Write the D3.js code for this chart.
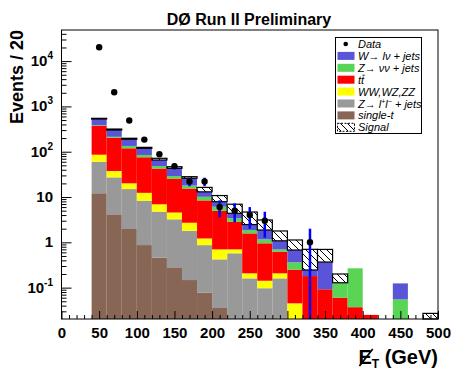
<!DOCTYPE html>
<html>
<head>
<meta charset="utf-8">
<script src="https://cdn.jsdelivr.net/npm/d3@7"></script>
<style>
  body { margin: 0; background: #fff; }
  text { font-family: Arial, 'Liberation Sans', sans-serif; }
</style>
</head>
<body>
<div id="chart"></div>
<script>
// bin lower edges, 20 GeV wide
const binLow = [40, 60, 80, 100, 120, 140, 160, 180, 200, 220, 240, 260, 280, 300, 320, 340, 360, 380, 400, 420, 440, 460, 480]

// per-process contributions (not cumulative), stacked bottom -> top
const singleTop = [12.1, 4.15, 1.97, 0.87, 0.457, 0.281, 0.147, 0.077, 0.0355, 0, 0, 0, 0, 0, 0, 0, 0, 0, 0, 0, 0, 0, 0]
const zll = [48, 23, 13, 7.4, 4.3, 2.94, 1.65, 0.79, 0.385, 0.572, 0.16, 0.097, 0.16, 0, 0, 0, 0, 0, 0, 0, 0, 0, 0]
const diboson = [25.8, 10.3, 5.1, 4.1, 2.16, 1.33, 0.91, 0.35, 0.279, 0.128, 0.047, 0.045, 0.047, 0.045, 0, 0, 0, 0, 0, 0, 0, 0, 0]
const ttbar = [289, 166, 99, 63, 35.7, 21, 12.7, 7.2, 4.28, 2.15, 1.37, 0.81, 0.413, 0.203, 0.18, 0.092, 0.06, 0.037, 0.025, 0, 0, 0, 0]
const znunu = [10, 10, 15, 9.4, 5.7, 3.5, 2.5, 1.7, 1.13, 0.54, 0.29, 0.21, 0.08, 0.114, 0, 0, 0.068, 0.23, 0, 0, 0.055, 0, 0]
const wjets = [142, 87, 54, 34, 17.3, 13.9, 8, 2.9, 1.77, 0.98, 0.6, 0.71, 0.38, 0.314, 0.065, 0.275, 0, 0, 0, 0, 0.069, 0, 0]
const signal = [19, 16, 10, 6, 6, 3.7, 2.2, 3.3, 2.9, 2.57, 2.2, 1.24, 0.7, 0.45, 0.455, 0.33, 0.072, 0, 0, 0, 0, 0, 0.027]

// data: bin centres and counts
const dataX = [50, 70, 90, 110, 130, 150, 170, 190, 210, 230, 250, 270, 330]
const dataN = [20200, 2050, 490, 185, 88, 48, 22, 22, 6, 5, 4, 3, 1]

const xTicks = [0, 50, 100, 150, 200, 250, 300, 350, 400, 450, 500]
const yTicks = [0.1, 1, 10, 100, 1000, 10000]

const keys = ['singleTop', 'zll', 'diboson', 'ttbar', 'znunu', 'wjets', 'signal']
const colors = {
  singleTop: '#876656',
  zll: '#999999',
  diboson: '#ffff00',
  ttbar: '#ff0000',
  znunu: '#59d454',
  wjets: '#5954d8'
}

const W = 454, H = 373
const plot = { left: 61.5, right: 438, top: 30, bottom: 319 }
const yMin = 0.0203, yMax = 48600

const svg = d3.select('#chart').append('svg').attr('width', W).attr('height', H)

const defs = svg.append('defs')
const pat = defs.append('pattern')
  .attr('id', 'hatch')
  .attr('patternUnits', 'userSpaceOnUse')
  .attr('width', 7)
  .attr('height', 7)
pat.append('rect').attr('width', 7).attr('height', 7).attr('fill', '#fff')
pat.append('path')
  .attr('d', 'M-1,-1 L8,8 M-1,6 L1,8 M6,-1 L8,1')
  .attr('stroke', '#000')
  .attr('stroke-width', 1)

const x = d3.scaleLinear().domain([0, 500]).range([plot.left, plot.right])
const y = d3.scaleLog().domain([yMin, yMax]).range([plot.bottom, plot.top]).clamp(true)

const table = binLow.map((b, i) => ({
  bin: b,
  singleTop: singleTop[i],
  zll: zll[i],
  diboson: diboson[i],
  ttbar: ttbar[i],
  znunu: znunu[i],
  wjets: wjets[i],
  signal: signal[i]
}))
const series = d3.stack().keys(keys)(table)

const bars = svg.append('g')
series.forEach((s) => {
  const isSig = s.key === 'signal'
  bars.append('g')
    .selectAll('rect')
    .data(s.filter((d) => d[1] - d[0] > 0 && d[1] > yMin))
    .enter()
    .append('rect')
    .attr('x', (d) => x(d.data.bin))
    .attr('width', (d) => x(d.data.bin + 20) - x(d.data.bin))
    .attr('y', (d) => y(d[1]))
    .attr('height', (d) => y(Math.max(d[0], yMin)) - y(d[1]))
    .attr('fill', isSig ? 'url(#hatch)' : colors[s.key])
    .attr('stroke', isSig ? '#000' : 'none')
    .attr('stroke-width', isSig ? 1.2 : 0)
})

// data error bars + markers
const pts = svg.append('g')
dataX.forEach((cx, i) => {
  const n = dataN[i]
  const e = Math.sqrt(n)
  pts.append('line')
    .attr('x1', x(cx)).attr('x2', x(cx))
    .attr('y1', y(n + e)).attr('y2', y(Math.max(n - e, yMin)))
    .attr('stroke', '#0000ff')
    .attr('stroke-width', 2.5)
})
pts.selectAll('circle')
  .data(dataX)
  .enter()
  .append('circle')
  .attr('cx', (d) => x(d))
  .attr('cy', (d, i) => y(dataN[i]))
  .attr('r', 3.2)
  .attr('fill', '#000')

// axes, ticks pointing inward
const xMinor = d3.range(0, 501, 10).filter((v) => v % 50 !== 0)
svg.append('g')
  .attr('transform', `translate(0, ${plot.bottom})`)
  .call(d3.axisBottom(x).tickValues(xMinor).tickSize(-4).tickFormat(''))
svg.append('g')
  .attr('class', 'x-major')
  .attr('transform', `translate(0, ${plot.bottom})`)
  .call(d3.axisBottom(x).tickValues(xTicks).tickSize(-8).tickPadding(8))

const yMinor = []
for (let p = -2; p <= 4; p++) {
  for (let m = 2; m <= 9; m++) {
    const v = m * Math.pow(10, p)
    if (v > yMin && v < yMax) yMinor.push(v)
  }
}
svg.append('g')
  .attr('transform', `translate(${plot.left}, 0)`)
  .call(d3.axisLeft(y).tickValues(yMinor).tickSize(-5).tickFormat(''))
svg.append('g')
  .attr('transform', `translate(${plot.left}, 0)`)
  .call(d3.axisLeft(y).tickValues(yTicks).tickSize(-10).tickFormat(''))

svg.selectAll('.domain').remove()
svg.selectAll('.tick line').attr('stroke', '#000')
svg.selectAll('.x-major text')
  .attr('font-size', 15)
  .attr('font-weight', 'bold')
  .attr('fill', '#000')
  .style('font-family', 'Arial, "Liberation Sans", sans-serif')

const exps = { 0.1: '-1', 100: '2', 1000: '3', 10000: '4' }
yTicks.forEach((v) => {
  const t = svg.append('text')
    .attr('x', 53)
    .attr('y', y(v) + 5)
    .attr('text-anchor', 'end')
    .attr('font-size', 15)
    .attr('font-weight', 'bold')
  if (exps[v]) {
    t.append('tspan').text('10')
    t.append('tspan').text(exps[v]).attr('font-size', 10).attr('dy', -7)
  } else {
    t.text(v === 1 ? '1' : '10')
  }
})

svg.append('rect')
  .attr('x', plot.left).attr('y', plot.top)
  .attr('width', plot.right - plot.left)
  .attr('height', plot.bottom - plot.top)
  .attr('fill', 'none')
  .attr('stroke', '#000')
  .attr('stroke-width', 1)

// titles
svg.append('text')
  .text('DØ Run II Preliminary')
  .attr('x', 249).attr('y', 25)
  .attr('text-anchor', 'middle')
  .attr('font-size', 16)
  .attr('font-weight', 'bold')

svg.append('text')
  .text('Events / 20')
  .attr('transform', `translate(23, ${plot.top})rotate(-90)`)
  .attr('text-anchor', 'end')
  .attr('font-size', 18)
  .attr('font-weight', 'bold')

const xt = svg.append('text')
  .attr('x', plot.right).attr('y', 364)
  .attr('text-anchor', 'end')
  .attr('font-size', 20)
  .attr('font-weight', 'bold')
xt.append('tspan').text('E')
xt.append('tspan').text('T').attr('font-size', 12).attr('dy', 4)
xt.append('tspan').text(' (GeV)').attr('dy', -4)
// slash through the E (missing transverse energy)
const eBox = xt.node().getExtentOfChar(0)
svg.append('line')
  .attr('x1', eBox.x + 1).attr('y1', eBox.y + eBox.height - 2)
  .attr('x2', eBox.x + eBox.width + 1).attr('y2', eBox.y + 3)
  .attr('stroke', '#000')
  .attr('stroke-width', 1.8)

// legend
const leg = svg.append('g')
leg.append('rect')
  .attr('x', 335.5).attr('y', 37.5)
  .attr('width', 86).attr('height', 96)
  .attr('fill', '#fff')
  .attr('stroke', '#000')

const legendRows = [
  { key: 'data', parts: [['Data']] },
  { key: 'wjets', parts: [['W\u2192 l\u03bd + jets']] },
  { key: 'znunu', parts: [['Z\u2192 \u03bd\u03bd + jets']] },
  { key: 'ttbar', parts: [['tt']], bar: 1 },
  { key: 'diboson', parts: [['WW,WZ,ZZ']] },
  { key: 'zll', parts: [['Z\u2192 l'], ['+', 'sup'], ['l'], ['\u2212', 'sup'], [' + jets']] },
  { key: 'singleTop', parts: [['single-t']] },
  { key: 'signal', parts: [['Signal']] }
]
legendRows.forEach((r, i) => {
  const cy = 44 + i * 11.9
  if (r.key === 'data') {
    leg.append('circle').attr('cx', 345.7).attr('cy', cy).attr('r', 2.3).attr('fill', '#000')
  } else if (r.key === 'signal') {
    leg.append('rect')
      .attr('x', 337.5).attr('y', cy - 4)
      .attr('width', 17).attr('height', 8)
      .attr('fill', 'url(#hatch)')
      .attr('stroke', '#000')
      .attr('stroke-dasharray', '2,1.5')
  } else {
    leg.append('rect')
      .attr('x', 337.5).attr('y', cy - 4)
      .attr('width', 17).attr('height', 8)
      .attr('fill', colors[r.key])
  }
  const t = leg.append('text')
    .attr('x', 358).attr('y', cy + 4)
    .attr('font-size', 11)
    .attr('font-style', 'italic')
  let shift = 0
  r.parts.forEach(([s, kind]) => {
    const sp = t.append('tspan').text(s)
    if (kind === 'sup') {
      sp.attr('font-size', 7).attr('dy', -4 - shift)
      shift = -4
    } else if (shift !== 0) {
      sp.attr('dy', -shift)
      shift = 0
    }
  })
  if (r.bar !== undefined) {
    // bar over the anti-top
    const b = t.node().getExtentOfChar(r.bar)
    leg.append('line')
      .attr('x1', b.x + 1.5).attr('x2', b.x + b.width + 0.5)
      .attr('y1', b.y + 1.5).attr('y2', b.y + 1.5)
      .attr('stroke', '#000')
      .attr('stroke-width', 0.9)
  }
})
</script>
</body>
</html>
